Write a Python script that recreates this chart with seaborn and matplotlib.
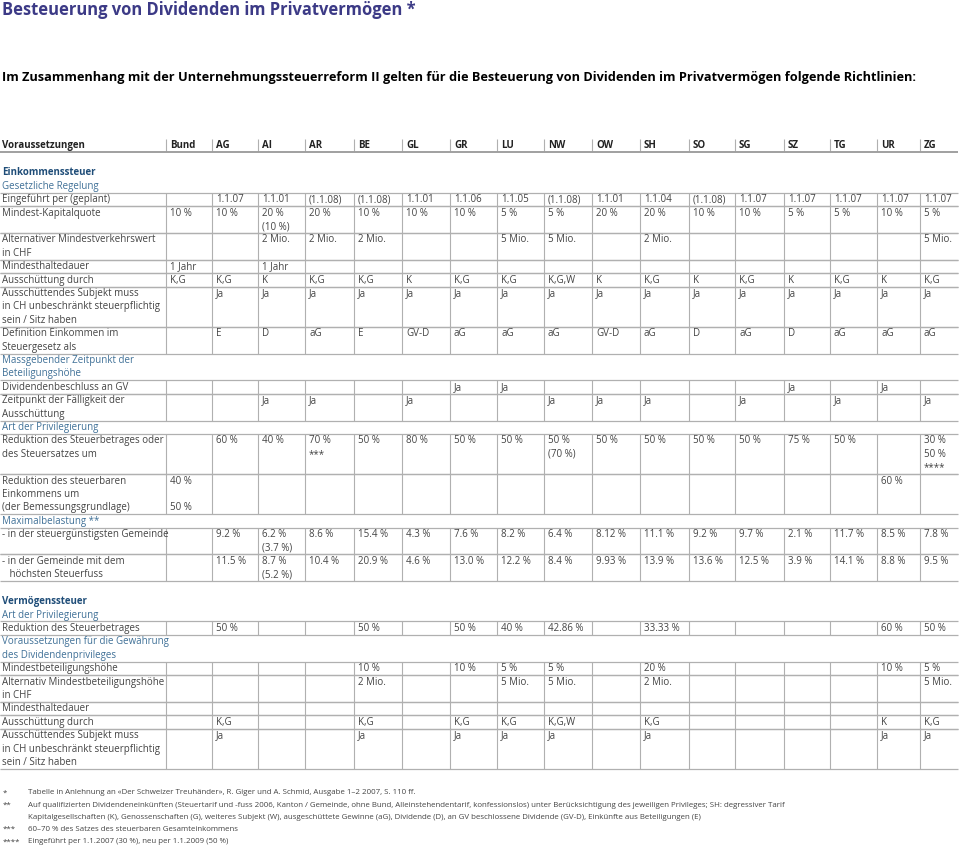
import matplotlib
matplotlib.use("Agg")
import matplotlib.pyplot as plt
import seaborn as sns

# ---- data ---------------------------------------------------------------
title = "Besteuerung von Dividenden im Privatvermögen *"
subtitle = ("Im Zusammenhang mit der Unternehmungssteuerreform II gelten für die "
            "Besteuerung von Dividenden im Privatvermögen folgende Richtlinien:")
header_label = "Voraussetzungen"
cantons = ["Bund", "AG", "AI", "AR", "BE", "GL", "GR", "LU", "NW", "OW",
           "SH", "SO", "SG", "SZ", "TG", "UR", "ZG"]

# Einkommenssteuer
ek_eingefuehrt = ["", "1.1.07", "1.1.01", "(1.1.08)", "(1.1.08)", "1.1.01", "1.1.06", "1.1.05", "(1.1.08)",
                  "1.1.01", "1.1.04", "(1.1.08)", "1.1.07", "1.1.07", "1.1.07", "1.1.07", "1.1.07"]
ek_kapitalquote = ["10 %", "10 %", "20 %\n(10 %)", "20 %", "10 %", "10 %", "10 %", "5 %", "5 %",
                   "20 %", "20 %", "10 %", "10 %", "5 %", "5 %", "10 %", "5 %"]
ek_verkehrswert = ["", "", "2 Mio.", "2 Mio.", "2 Mio.", "", "", "5 Mio.", "5 Mio.",
                   "", "2 Mio.", "", "", "", "", "", "5 Mio."]
ek_haltedauer = ["1 Jahr", "", "1 Jahr", "", "", "", "", "", "",
                 "", "", "", "", "", "", "", ""]
ek_ausschuettung = ["K,G", "K,G", "K", "K,G", "K,G", "K", "K,G", "K,G", "K,G,W",
                    "K", "K,G", "K", "K,G", "K", "K,G", "K", "K,G"]
ek_subjekt = ["", "Ja", "Ja", "Ja", "Ja", "Ja", "Ja", "Ja", "Ja",
              "Ja", "Ja", "Ja", "Ja", "Ja", "Ja", "Ja", "Ja"]
ek_definition = ["", "E", "D", "aG", "E", "GV-D", "aG", "aG", "aG",
                 "GV-D", "aG", "D", "aG", "D", "aG", "aG", "aG"]
ek_gv_beschluss = ["", "", "", "", "", "", "Ja", "Ja", "",
                   "", "", "", "", "Ja", "", "Ja", ""]
ek_faelligkeit = ["", "", "Ja", "Ja", "", "Ja", "", "", "Ja",
                  "Ja", "Ja", "", "Ja", "", "Ja", "", "Ja"]
ek_red_betrag = ["", "60 %", "40 %", "70 %\n***", "50 %", "80 %", "50 %", "50 %", "50 %\n(70 %)",
                 "50 %", "50 %", "50 %", "50 %", "75 %", "50 %", "", "30 %\n50 %\n****"]
ek_red_einkommen = ["40 %\n\n50 %", "", "", "", "", "", "", "", "",
                    "", "", "", "", "", "", "60 %", ""]
ek_max_guenstig = ["", "9.2 %", "6.2 %\n(3.7 %)", "8.6 %", "15.4 %", "4.3 %", "7.6 %", "8.2 %", "6.4 %",
                   "8.12 %", "11.1 %", "9.2 %", "9.7 %", "2.1 %", "11.7 %", "8.5 %", "7.8 %"]
ek_max_hoechst = ["", "11.5 %", "8.7 %\n(5.2 %)", "10.4 %", "20.9 %", "4.6 %", "13.0 %", "12.2 %", "8.4 %",
                  "9.93 %", "13.9 %", "13.6 %", "12.5 %", "3.9 %", "14.1 %", "8.8 %", "9.5 %"]

# Vermögenssteuer
vm_red_betrag = ["", "50 %", "", "", "50 %", "", "50 %", "40 %", "42.86 %",
                 "", "33.33 %", "", "", "", "", "60 %", "50 %"]
vm_beteiligung = ["", "", "", "", "10 %", "", "10 %", "5 %", "5 %",
                  "", "20 %", "", "", "", "", "10 %", "5 %"]
vm_beteiligung_chf = ["", "", "", "", "2 Mio.", "", "", "5 Mio.", "5 Mio.",
                      "", "2 Mio.", "", "", "", "", "", "5 Mio."]
vm_haltedauer = ["", "", "", "", "", "", "", "", "",
                 "", "", "", "", "", "", "", ""]
vm_ausschuettung = ["", "K,G", "", "", "K,G", "", "K,G", "K,G", "K,G,W",
                    "", "K,G", "", "", "", "", "K", "K,G"]
vm_subjekt = ["", "Ja", "", "", "Ja", "", "Ja", "Ja", "Ja",
              "", "Ja", "", "", "", "", "Ja", "Ja"]

footnote_marks = ["*", "**", "", "***", "****"]
footnote_texts = [
    "Tabelle in Anlehnung an «Der Schweizer Treuhänder», R. Giger und A. Schmid, Ausgabe 1–2 2007, S. 110 ff.",
    "Auf qualifizierten Dividendeneinkünften (Steuertarif und -fuss 2006, Kanton / Gemeinde, ohne Bund, "
    "Alleinstehendentarif, konfessionslos) unter Berücksichtigung des jeweiligen Privileges; SH: degressiver Tarif",
    "Kapitalgesellschaften (K), Genossenschaften (G), weiteres Subjekt (W), ausgeschüttete Gewinne (aG), "
    "Dividende (D), an GV beschlossene Dividende (GV-D), Einkünfte aus Beteiligungen (E)",
    "60–70 % des Satzes des steuerbaren Gesamteinkommens",
    "Eingeführt per 1.1.2007 (30 %), neu per 1.1.2009 (50 %)",
]

subjekt_label = "Ausschüttendes Subjekt muss\nin CH unbeschränkt steuerpflichtig\nsein / Sitz haben"
table = [
    ("gap", ""),
    ("section", "Einkommenssteuer"),
    ("sub", "Gesetzliche Regelung"),
    ("row", "Eingeführt per (geplant)", ek_eingefuehrt),
    ("row", "Mindest-Kapitalquote", ek_kapitalquote),
    ("row", "Alternativer Mindestverkehrswert\nin CHF", ek_verkehrswert),
    ("row", "Mindesthaltedauer", ek_haltedauer),
    ("row", "Ausschüttung durch", ek_ausschuettung),
    ("row", subjekt_label, ek_subjekt),
    ("row", "Definition Einkommen im\nSteuergesetz als", ek_definition),
    ("sub", "Massgebender Zeitpunkt der\nBeteiligungshöhe"),
    ("row", "Dividendenbeschluss an GV", ek_gv_beschluss),
    ("row", "Zeitpunkt der Fälligkeit der\nAusschüttung", ek_faelligkeit),
    ("sub", "Art der Privilegierung"),
    ("row", "Reduktion des Steuerbetrages oder\ndes Steuersatzes um", ek_red_betrag),
    ("row", "Reduktion des steuerbaren\nEinkommens um\n(der Bemessungsgrundlage)", ek_red_einkommen),
    ("sub", "Maximalbelastung **"),
    ("row", "- in der steuergünstigsten Gemeinde", ek_max_guenstig),
    ("row", "- in der Gemeinde mit dem\n   höchsten Steuerfuss", ek_max_hoechst),
    ("gap", ""),
    ("section", "Vermögenssteuer"),
    ("sub", "Art der Privilegierung"),
    ("row", "Reduktion des Steuerbetrages", vm_red_betrag),
    ("sub", "Voraussetzungen für die Gewährung\ndes Dividendenprivileges"),
    ("row", "Mindestbeteiligungshöhe", vm_beteiligung),
    ("row", "Alternativ Mindestbeteiligungshöhe\nin CHF", vm_beteiligung_chf),
    ("row", "Mindesthaltedauer", vm_haltedauer),
    ("row", "Ausschüttung durch", vm_ausschuettung),
    ("row", subjekt_label, vm_subjekt),
]

# ---- layout / style -----------------------------------------------------
col_edges = [166, 212, 258, 305, 354, 402, 450, 497, 544, 592, 640, 689, 735, 784, 830, 877, 920]
table_right = 958
line_h = 13.4
fs = 7.0
text_col = "#444444"
grid_col = "#b0b0b0"
sub_col = "#3f7097"
section_col = "#1f4d78"
title_col = "#3c3a86"

sns.set_theme(style="white")
plt.rcParams["font.family"] = ["Open Sans", "DejaVu Sans"]

fig = plt.figure(figsize=(9.6, 8.49), dpi=100)
ax = fig.add_axes([0, 0, 1, 1])
ax.set_xlim(0, 960)
ax.set_ylim(849, 0)
ax.axis("off")

ax.text(2, 10, title, fontsize=11.9, fontweight="bold", color=title_col, va="center")
ax.text(2, 77, subtitle, fontsize=9.2, fontweight="bold", color="black", va="center")

# header
ax.text(2, 145, header_label, fontsize=fs, fontweight="bold", color="#222222", va="center")
for x, name in zip(col_edges, cantons):
    ax.vlines(x, 139, 151, color=grid_col, lw=0.8)
    ax.text(x + 4, 145, name, fontsize=fs, fontweight="bold", color="#222222", va="center")
ax.hlines(152, 0, table_right, color="#999999", lw=1.3)

y = 152.5
for item in table:
    kind = item[0]
    if kind == "gap":
        y += line_h
        continue
    lines = item[1].split("\n")
    if kind in ("section", "sub"):
        for i, s in enumerate(lines):
            ax.text(2, y + 7 + i * line_h, s, fontsize=fs, va="center",
                    color=section_col if kind == "section" else sub_col,
                    fontweight="bold" if kind == "section" else "normal")
        y += len(lines) * line_h
        continue
    values = item[2]
    n = max([len(lines)] + [len(v.split("\n")) for v in values])
    top, bottom = y, y + n * line_h
    for i, s in enumerate(lines):
        ax.text(2, top + 7 + i * line_h, s, fontsize=fs, va="center", color=text_col)
    for x, v in zip(col_edges, values):
        for i, s in enumerate(v.split("\n")):
            ax.text(x + 4, top + 7 + i * line_h, s, fontsize=fs, va="center", color=text_col)
    ax.vlines(col_edges, top, bottom, color=grid_col, lw=0.8)
    ax.hlines([top, bottom], 0, table_right, color=grid_col, lw=0.9)
    y = bottom

# footnotes
for i, (m, s) in enumerate(zip(footnote_marks, footnote_texts)):
    fy = 793 + i * 12.2
    ax.text(3, fy, m, fontsize=5.7, va="center", color=text_col)
    ax.text(28, fy, s, fontsize=5.7, va="center", color=text_col)

fig.savefig("out.png", dpi=100)
